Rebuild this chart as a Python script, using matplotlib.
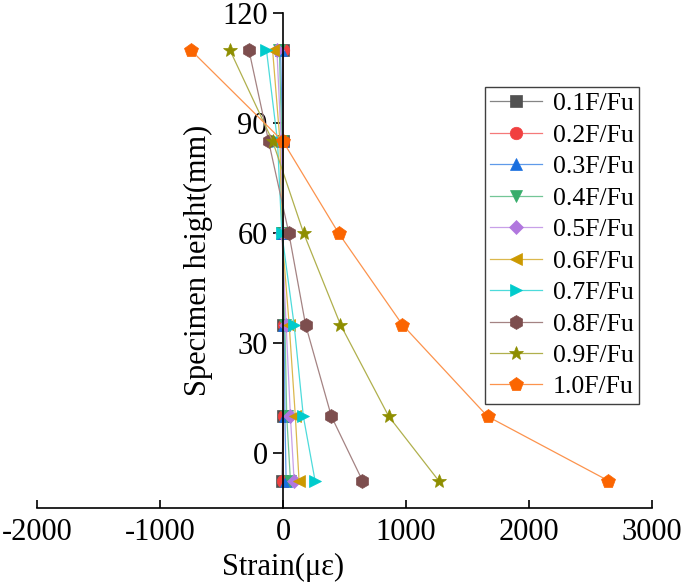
import matplotlib
matplotlib.use('Agg')
import matplotlib.pyplot as plt
from matplotlib.colors import to_rgb

plt.rcParams['font.family'] = ['Liberation Serif', 'DejaVu Serif']
plt.rcParams['axes.unicode_minus'] = False

# specimen height levels of the gauges (mm)
height = [110, 85, 60, 35, 10, -7.5]

labels = ['0.1F/Fu', '0.2F/Fu', '0.3F/Fu', '0.4F/Fu', '0.5F/Fu',
          '0.6F/Fu', '0.7F/Fu', '0.8F/Fu', '0.9F/Fu', '1.0F/Fu']

# strain readings (micro-strain), one list per load level, top to bottom
s01 = [2, 0, 0, 0, 0, -8]
s02 = [0, 0, 0, 5, 5, 0]
s03 = [-20, -5, -5, 10, 15, 25]
s04 = [-30, -10, -5, 15, 30, 60]
s05 = [-50, -15, -10, 25, 60, 90]
s06 = [-85, -25, -10, 50, 100, 130]
s07 = [-135, -45, -10, 90, 165, 260]
s08 = [-278, -117, 47, 183, 393, 645]
s09 = [-433, -84, 167, 467, 859, 1264]
s10 = [-752, 0, 451, 970, 1662, 2641]
strains = [s01, s02, s03, s04, s05, s06, s07, s08, s09, s10]

colors = ['#515151', '#F14040', '#1A6FDF', '#37AD6B', '#B177DE',
          '#CC9900', '#00CBCC', '#7D4E4E', '#8E8E00', '#FB6501']
markers = ['s', 'o', '^', 'v', 'D', '<', '>', 'h', '*', 'p']
msizes = [8, 9, 9, 9, 7, 9, 9, 10, 10, 10]


def lighter(c, f=0.3):
    r, g, b = to_rgb(c)
    return (r + (1 - r) * f, g + (1 - g) * f, b + (1 - b) * f)


fig = plt.figure(figsize=(6.85, 5.85), dpi=100)
ax = fig.add_axes([0.054, 0.1316, 0.898, 0.846])

for s, lab, c, m, ms in zip(strains, labels, colors, markers, msizes):
    ax.plot(s, height, '-', color=lighter(c), lw=0.9, marker=m, ms=ms,
            mfc=c, mec=c, mew=0.5, label=lab)

ax.set_xlim(-2000, 3000)
ax.set_ylim(-15, 120)
ax.set_xticks([-2000, -1000, 0, 1000, 2000, 3000])
ax.set_yticks([0, 30, 60, 90, 120])

ax.spines['top'].set_visible(False)
ax.spines['right'].set_visible(False)
ax.spines['left'].set_position(('data', 0))
ax.spines['left'].set_linewidth(1.2)
ax.spines['bottom'].set_linewidth(1.2)

ax.tick_params(axis='x', direction='in', length=6, width=1.2,
               labelsize=22, pad=7)
ax.tick_params(axis='y', direction='out', length=7, width=1.2,
               labelsize=22, pad=4)

ax.set_xlabel('Strain(με)', fontsize=22, va='center')
ax.xaxis.set_label_coords(0.40, -0.12)
ax.set_ylabel('Specimen height(mm)', fontsize=22, va='center')
ax.yaxis.set_label_coords(0.262, 0.5)

leg = ax.legend(loc='upper left', bbox_to_anchor=(0.708, 0.851),
                bbox_transform=fig.transFigure, borderaxespad=0,
                fontsize=18.5, frameon=True, fancybox=False,
                framealpha=1, edgecolor='#404040', handlelength=2.0,
                handletextpad=0.45, labelspacing=0.33, borderpad=0.2)
leg.get_frame().set_linewidth(1.0)

plt.savefig('out.png', dpi=100)
